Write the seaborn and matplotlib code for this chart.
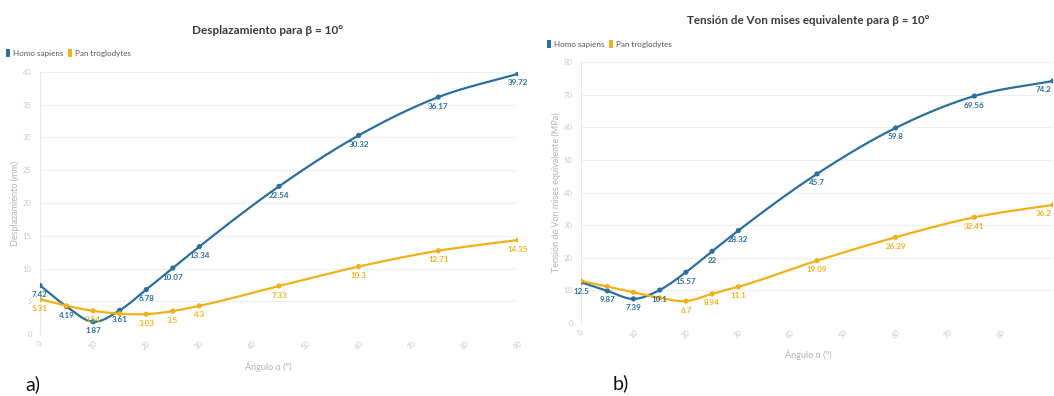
import numpy as np
import pandas as pd
import matplotlib
matplotlib.use('Agg')
import matplotlib.pyplot as plt
import seaborn as sns
from matplotlib.patches import Patch

# Angles (x axis) shared by both charts.
angles = [0, 5, 10, 15, 20, 25, 30, 45, 60, 75, 90]
x_ticks_a = [0, 10, 20, 30, 40, 50, 60, 70, 80, 90]
x_ticks_b = [0, 10, 20, 30, 40, 50, 60, 70, 80]

# a) Displacement (mm).
disp_homo = [7.42, 4.19, 1.87, 3.61, 6.78, 10.07, 13.34, 22.54, 30.32, 36.17, 39.72]
disp_pan = [5.31, 4.3, 3.54, 3.1, 3.03, 3.5, 4.3, 7.33, 10.3, 12.71, 14.35]
disp_homo_labels = ['7.42', '4.19', '1.87', '3.61', '6.78', '10.07', '13.34', '22.54', '30.32', '36.17', '39.72']
disp_pan_labels = ['5.31', None, '3.54', None, '3.03', '3.5', '4.3', '7.33', '10.3', '12.71', '14.35']

# b) Von Mises equivalent stress (MPa).
vm_homo = [12.5, 9.87, 7.39, 10.1, 15.57, 22, 28.32, 45.7, 59.8, 69.56, 74.2]
vm_pan = [12.9, 11.2, 9.4, 7.7, 6.7, 8.94, 11.1, 19.09, 26.29, 32.41, 36.2]
vm_homo_labels = ['12.5', '9.87', '7.39', '10.1', '15.57', '22', '28.32', '45.7', '59.8', '69.56', '74.2']
vm_pan_labels = [None, None, None, None, '6.7', '8.94', '11.1', '19.09', '26.29', '32.41', '36.2']

series_names = ['Homo sapiens', 'Pan troglodytes']
colors = {'Homo sapiens': '#2a6f9e', 'Pan troglodytes': '#f0b11a'}


def smooth(x, y, n=40):
    # cubic hermite curve through the points, only for drawing the line
    x = np.asarray(x, float)
    y = np.asarray(y, float)
    m = np.gradient(y, x)
    xs, ys = [], []
    for i in range(len(x) - 1):
        h = x[i + 1] - x[i]
        t = np.linspace(0, 1, n)
        h00 = 2 * t**3 - 3 * t**2 + 1
        h10 = t**3 - 2 * t**2 + t
        h01 = -2 * t**3 + 3 * t**2
        h11 = t**3 - t**2
        xs.append(x[i] + t * h)
        ys.append(h00 * y[i] + h10 * h * m[i] + h01 * y[i + 1] + h11 * h * m[i + 1])
    return np.concatenate(xs), np.concatenate(ys)


def draw_panel(ax, homo, pan, homo_labels, pan_labels, ymax, ystep, xticks, title, ylabel,
               title_x, title_y, title_size, legend_xy, xlabel_y, last_right=False):
    df = pd.DataFrame({
        'angle': angles * 2,
        'value': homo + pan,
        'species': [series_names[0]] * len(angles) + [series_names[1]] * len(angles),
    })
    for name, vals in zip(series_names, [homo, pan]):
        xs, ys = smooth(angles, vals)
        ax.plot(xs, ys, color=colors[name], lw=1.6, zorder=3, solid_capstyle='round')
    sns.scatterplot(data=df, x='angle', y='value', hue='species', palette=colors,
                    s=14, edgecolor='none', legend=False, ax=ax, zorder=4)

    for vals, labs, name in [(homo, homo_labels, series_names[0]), (pan, pan_labels, series_names[1])]:
        for i, (xv, yv, lab) in enumerate(zip(angles, vals, labs)):
            if lab is None:
                continue
            ha = 'center'
            dx = 0
            if last_right and i == len(angles) - 1:
                ha = 'right'
                dx = -1
            ax.annotate(lab, (xv, yv), xytext=(dx, -4), textcoords='offset points',
                        ha=ha, va='top', fontsize=5.8, fontweight='bold',
                        color=colors[name], zorder=5, annotation_clip=False)

    ax.set_xlim(0, 90)
    ax.set_ylim(0, ymax)
    ax.set_xticks(xticks)
    ax.set_yticks(np.arange(0, ymax + 1, ystep))
    ax.tick_params(axis='x', labelrotation=45, labelsize=5.5, colors='#c8c8c8', length=0, pad=4)
    ax.tick_params(axis='y', labelsize=5.5, colors='#c8c8c8', length=0, pad=6)
    for lbl in ax.get_xticklabels():
        lbl.set_ha('center')
    ax.grid(axis='y', color='#efefef', lw=0.8)
    ax.grid(axis='x', visible=False)
    for side in ['top', 'right', 'bottom']:
        ax.spines[side].set_visible(False)
    ax.spines['left'].set_color('#e6e6e6')
    ax.spines['left'].set_linewidth(0.8)
    ax.set_xlabel('')
    ax.set_ylabel(ylabel, fontsize=6.5, color='#b4b4b4', labelpad=2)

    fig = ax.figure
    fig.text(title_x, title_y, title, ha='center', va='center', fontsize=title_size,
             fontweight='bold', color='#3a3a3a')
    fig.text(title_x, xlabel_y, 'Ángulo α (°)', ha='center', va='center',
             fontsize=6.5, color='#b4b4b4')
    handles = [Patch(facecolor=colors[n], edgecolor='none', label=n) for n in series_names]
    leg = fig.legend(handles=handles, loc='center left', bbox_to_anchor=legend_xy, ncol=2,
                     frameon=False, fontsize=5.8, handlelength=0.55, handleheight=1.1,
                     handletextpad=0.3, columnspacing=0.6, borderaxespad=0, borderpad=0)
    for txt in leg.get_texts():
        txt.set_color('#555555')


def main():
    sns.set_theme(style='white')
    plt.rcParams['font.family'] = ['Lato', 'DejaVu Sans']

    fig = plt.figure(figsize=(10.54, 3.96), dpi=100)
    ax1 = fig.add_axes([40 / 1054, 1 - 334 / 396, 478 / 1054, 262 / 396])
    ax2 = fig.add_axes([581 / 1054, 1 - 323 / 396, 472 / 1054, 261 / 396])

    draw_panel(ax1, disp_homo, disp_pan, disp_homo_labels, disp_pan_labels, 40, 5, x_ticks_a,
               'Desplazamiento para β = 10°', 'Desplazamiento (mm)',
               268 / 1054, 1 - 30 / 396, 8.5, (6 / 1054, 1 - 53 / 396), 1 - 366 / 396)
    draw_panel(ax2, vm_homo, vm_pan, vm_homo_labels, vm_pan_labels, 80, 10, x_ticks_b,
               'Tensión de Von mises equivalente para β = 10°',
               'Tensión de Von mises equivalente (MPa)',
               808 / 1054, 1 - 20 / 396, 8.4, (547 / 1054, 1 - 44 / 396), 1 - 355 / 396,
               last_right=True)

    fig.text(25 / 1054, 1 - 384 / 396, 'a)', fontsize=14, color='#111111', va='center')
    fig.text(613 / 1054, 1 - 383 / 396, 'b)', fontsize=14, color='#111111', va='center')

    fig.savefig('out.png', dpi=100, facecolor='white')


if __name__ == '__main__':
    main()
